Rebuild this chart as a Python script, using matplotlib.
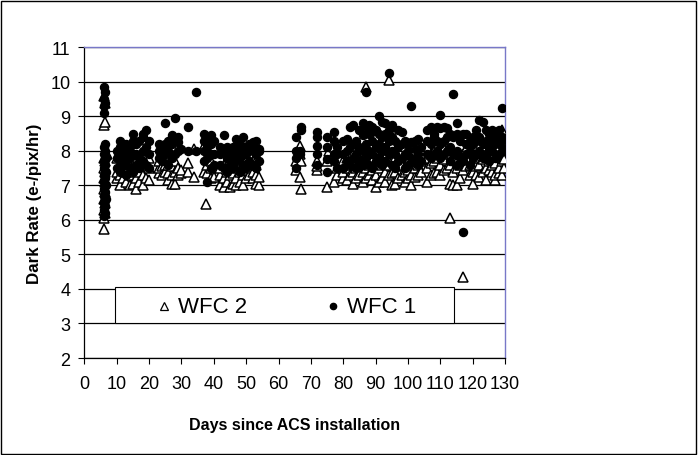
import matplotlib.pyplot as plt
from matplotlib.patches import Rectangle

plt.rcParams['font.family'] = ['Liberation Sans', 'DejaVu Sans']

# WFC 1 dark rates (filled circles): day -> readings
wfc1_days = [6.0, 6.4, 6.8,
             10, 11, 12, 13, 14, 15, 16, 17, 18, 19, 20,
             23, 24, 25, 26, 27, 28, 29, 30, 32, 34.5, 37, 38, 39, 40,
             42, 43, 44, 45, 46, 47, 48, 49, 50, 51, 52, 53, 54,
             65.5, 66.5, 67,
             72, 75, 77, 78,
             80, 81, 82, 83, 84, 85, 86, 87, 88, 89, 90, 91, 92, 93, 94, 95,
             96, 97, 98, 99, 100, 101, 102, 103, 104,
             106, 107, 108, 109, 110, 111, 112, 113, 114, 115, 116, 117, 118,
             119, 120, 121, 122, 123, 124, 125, 126, 127, 128, 129, 129.6]
wfc1_rates = [
    [6.1, 6.3, 6.5, 6.7, 6.9, 7.1, 7.3, 7.5, 7.7, 7.9, 8.1, 9.1, 9.3, 9.5, 9.85],
    [6.2, 6.4, 6.6, 6.8, 7.0, 7.2, 7.4, 7.6, 7.8, 8.0, 8.2, 9.4, 9.7],
    [6.6, 7.0, 7.4, 7.8],
    [7.5, 7.8, 8.0], [7.4, 7.7, 8.1, 8.3], [7.6, 7.9, 8.2], [7.3, 7.7, 8.0, 8.2],
    [7.5, 7.8, 8.1], [7.4, 7.9, 8.3, 8.5], [7.6, 7.9, 8.2], [7.5, 7.8, 8.3],
    [7.7, 8.0, 8.4, 8.5], [7.6, 8.1, 8.6], [7.5, 7.9, 8.3],
    [7.8, 8.0, 8.2], [7.7, 7.9, 8.1], [7.9, 8.2, 8.8], [7.6, 8.0, 8.3],
    [7.8, 8.2, 8.45], [7.9, 8.3, 8.95], [8.0, 8.25, 8.4], [8.05], [8.0, 8.7],
    [8.0, 9.7], [7.7, 8.0, 8.3, 8.5], [7.1, 7.8, 8.1, 8.4], [7.5, 7.9, 8.2, 8.45],
    [7.6, 7.9, 8.3],
    [7.6, 7.9, 8.1], [7.5, 8.0, 8.45], [7.4, 7.8, 8.1], [7.6, 7.9, 8.05],
    [7.5, 7.8, 8.1], [7.7, 8.0, 8.35], [7.4, 7.8, 8.2], [7.6, 8.0, 8.4],
    [7.5, 7.9, 8.1], [7.7, 8.0, 8.2], [7.6, 8.1, 8.25], [7.5, 7.9, 8.3],
    [7.7, 8.0, 8.05],
    [7.5, 7.8, 8.0, 8.4], [7.9, 8.0], [8.6, 8.7],
    [7.6, 7.9, 8.15, 8.4, 8.55], [7.4, 7.75, 8.1, 8.4], [7.7, 7.9, 8.3, 8.55],
    [7.5, 7.9, 8.1],
    [7.5, 7.9, 8.3], [7.7, 8.0, 8.35], [7.6, 8.1, 8.7], [7.8, 8.2, 8.75],
    [7.5, 7.9, 8.3], [7.7, 8.1, 8.6], [7.6, 8.0, 8.45, 8.8], [7.8, 8.2, 8.7, 9.7],
    [7.6, 8.0, 8.5, 8.75], [7.5, 7.9, 8.3, 8.7], [7.7, 8.1, 8.6],
    [7.8, 8.2, 8.5, 9.0], [7.6, 8.0, 8.4, 8.85], [7.7, 8.1, 8.5, 8.8],
    [7.9, 8.3, 8.6, 10.25], [7.6, 8.0, 8.4, 8.75],
    [7.5, 7.9, 8.3], [7.7, 8.1, 8.6], [7.8, 8.2, 8.55], [7.5, 7.9, 8.3],
    [7.6, 8.0, 8.2], [7.8, 8.25, 9.3], [7.7, 8.05, 8.3], [7.6, 7.9, 8.35],
    [7.7, 8.1],
    [7.9, 8.3, 8.6], [7.8, 8.2, 8.7], [7.9, 8.4, 8.5], [8.0, 8.3, 8.7],
    [7.8, 8.2, 8.65, 9.05], [7.9, 8.3, 8.7], [8.0, 8.4, 8.65], [7.7, 8.1, 8.5],
    [7.9, 8.4, 9.65], [7.6, 8.0, 8.5, 8.8], [7.8, 8.3, 8.45], [5.65, 7.7, 8.5],
    [7.9, 8.2, 8.5],
    [7.6, 8.0, 8.3], [7.8, 8.2, 8.4], [7.9, 8.3, 8.6], [8.0, 8.4, 8.9],
    [7.8, 8.2, 8.85], [7.9, 8.3, 8.6], [7.7, 8.1, 8.5], [8.0, 8.3, 8.6],
    [7.8, 8.2, 8.45], [7.9, 8.3, 8.6], [8.1, 8.4, 9.25], [8.0, 8.35],
]

# WFC 2 dark rates (open triangles)
wfc2_days = [6.0, 6.5, 7.0,
             10, 11, 12, 13, 14, 15, 16, 17, 18, 19, 20,
             23, 24, 25, 26, 27, 28, 29, 30, 32, 34, 37, 37.5, 38, 39, 40,
             42, 43, 44, 45, 46, 47, 48, 49, 50, 51, 52, 53, 54,
             65.5, 66.5, 67,
             72, 75, 75.5, 77, 78,
             80, 81, 82, 83, 84, 85, 86, 87, 88, 89, 90, 91, 92, 93, 94, 95,
             96, 97, 98, 99, 100, 101, 102, 103, 104,
             106, 107, 108, 109, 110, 111, 112, 113, 114, 115, 116, 117, 118,
             119, 120, 121, 122, 123, 124, 125, 126, 127, 128, 129, 129.6]
wfc2_rates = [
    [5.75, 6.05, 6.3, 6.6, 6.9, 7.2, 7.5, 7.8, 8.75, 9.6],
    [6.2, 6.5, 6.8, 7.1, 7.4, 7.7, 8.85, 9.4],
    [7.9],
    [7.2, 7.4, 7.8], [7.0, 7.3, 7.6], [7.2, 7.5, 7.9], [7.1, 7.4, 7.7],
    [7.0, 7.3, 7.6], [7.05, 7.4, 7.8], [6.9, 7.2, 7.5], [7.1, 7.4, 7.7],
    [7.0, 7.3, 7.9], [7.2, 7.6, 8.0], [7.15, 7.5, 7.8],
    [7.35, 7.5, 7.7], [7.3, 7.55], [7.4, 7.6, 7.9], [7.15, 7.35, 7.6],
    [7.05, 7.3, 7.55], [7.05, 7.4, 7.7], [7.3, 7.5], [7.35, 7.45], [7.4, 7.65],
    [7.25, 8.05], [7.4, 8.15], [6.45], [7.35, 7.6], [7.2, 7.5, 7.7], [7.25, 7.55],
    [7.0, 7.3, 7.5], [6.95, 7.2, 7.6], [7.1, 7.4], [6.95, 7.3, 7.5],
    [7.05, 7.35, 7.6], [7.0, 7.2, 7.5], [7.1, 7.4, 7.7], [7.0, 7.3, 7.55],
    [7.2, 7.45], [7.3, 7.5], [7.2, 7.4, 7.7], [7.05, 7.3, 7.6], [7.0, 7.25],
    [7.45, 7.7], [7.9, 8.15, 7.25], [6.9, 7.7],
    [7.45, 7.55, 7.7], [6.95, 7.7], [7.9, 8.0], [7.1, 8.1], [7.3, 7.5],
    [7.2, 7.4, 7.7], [7.15, 7.5, 7.8], [7.3, 7.6], [7.05, 7.4, 7.7],
    [7.2, 7.5, 7.9], [7.3, 7.55, 7.8], [7.1, 7.4, 7.75], [7.2, 7.5, 7.9, 9.85],
    [7.3, 7.6, 8.0], [7.15, 7.45, 7.8], [6.95, 7.3, 7.7, 8.4],
    [7.1, 7.5, 7.9, 8.2], [7.2, 7.6, 8.0], [7.1, 7.4, 7.8], [7.3, 7.6, 10.05],
    [7.0, 7.35, 7.7],
    [7.05, 7.4, 7.8], [7.2, 7.55], [7.3, 7.6], [7.1, 7.4], [7.2, 7.45, 7.7],
    [7.0, 7.3, 7.6], [7.25, 7.5], [7.3, 7.6, 7.75], [7.4, 7.7],
    [7.1, 7.5, 7.8], [7.3, 7.65, 7.9], [7.35, 7.7, 8.0], [7.4, 7.8],
    [7.3, 7.6, 8.1], [7.45, 7.75, 8.05], [7.5, 7.9], [6.05, 7.05, 7.6],
    [7.0, 7.4, 7.8], [7.0, 7.5, 7.7], [7.2, 7.6], [4.35, 7.45, 7.9],
    [7.55, 8.05],
    [7.3, 7.6], [7.05, 7.4, 7.7], [7.3, 7.55, 7.8], [7.25, 7.6], [7.4, 7.75],
    [7.15, 7.5, 7.9], [7.45, 7.7], [7.4, 7.6, 7.8], [7.15, 7.3, 7.65],
    [7.35, 7.5], [7.3, 7.7, 8.6], [7.5, 7.75],
]

x1 = [d for d, r in zip(wfc1_days, wfc1_rates) for _ in r]
y1 = [v for r in wfc1_rates for v in r]
x2 = [d for d, r in zip(wfc2_days, wfc2_rates) for _ in r]
y2 = [v for r in wfc2_rates for v in r]

fig = plt.figure(figsize=(6.99, 4.56), dpi=100)
ax = fig.add_axes([0.1206, 0.2127, 0.6021, 0.6814])

# WFC 2 is the first series, WFC 1 drawn over it
ax.plot(x2, y2, '^', markerfacecolor='white', markeredgecolor='black',
        markersize=7, markeredgewidth=1.1, zorder=3)
ax.plot(x1, y1, 'o', color='black', markersize=5.8, zorder=4)

ax.set_xlim(0, 130)
ax.set_ylim(2, 11)
ax.set_xticks(range(0, 131, 10))
ax.set_yticks(range(2, 12))
ax.tick_params(axis='both', direction='out', length=4, width=0.8, labelsize=13)
ax.tick_params(axis='x', pad=8)
ax.tick_params(axis='y', pad=6)
ax.yaxis.grid(True, color='black', linewidth=0.9, zorder=0)
ax.set_axisbelow(True)

for s in ['left', 'bottom']:
    ax.spines[s].set_color('black')
    ax.spines[s].set_linewidth(0.9)
for s in ['top', 'right']:
    ax.spines[s].set_color('#7878c8')
    ax.spines[s].set_linewidth(1.0)

ax.set_xlabel('Days since ACS installation', fontsize=11.5, fontweight='bold',
              labelpad=18)
ax.set_ylabel('Dark Rate (e-/pix/hr)', fontsize=12.2, fontweight='bold',
              labelpad=6)

# legend box drawn inside the plot like the original
ax.add_patch(Rectangle((9.5, 3.0), 104.7, 1.06, facecolor='white',
                       edgecolor='black', linewidth=0.8, zorder=6))
ax.plot([24.6], [3.52], '^', markerfacecolor='white', markeredgecolor='black',
        markersize=5.5, markeredgewidth=0.9, zorder=7)
ax.text(28.8, 3.5, 'WFC 2', fontsize=16, va='center', ha='left', zorder=7)
ax.plot([76.8], [3.52], 'o', color='black', markersize=4.5, zorder=7)
ax.text(81.2, 3.5, 'WFC 1', fontsize=16, va='center', ha='left', zorder=7)

# thin frame around whole figure
fig.patches.append(Rectangle((0.002, 0.003), 0.994, 0.993, transform=fig.transFigure,
                             fill=False, edgecolor='black', linewidth=1.0))

fig.savefig('out.png', dpi=100)
